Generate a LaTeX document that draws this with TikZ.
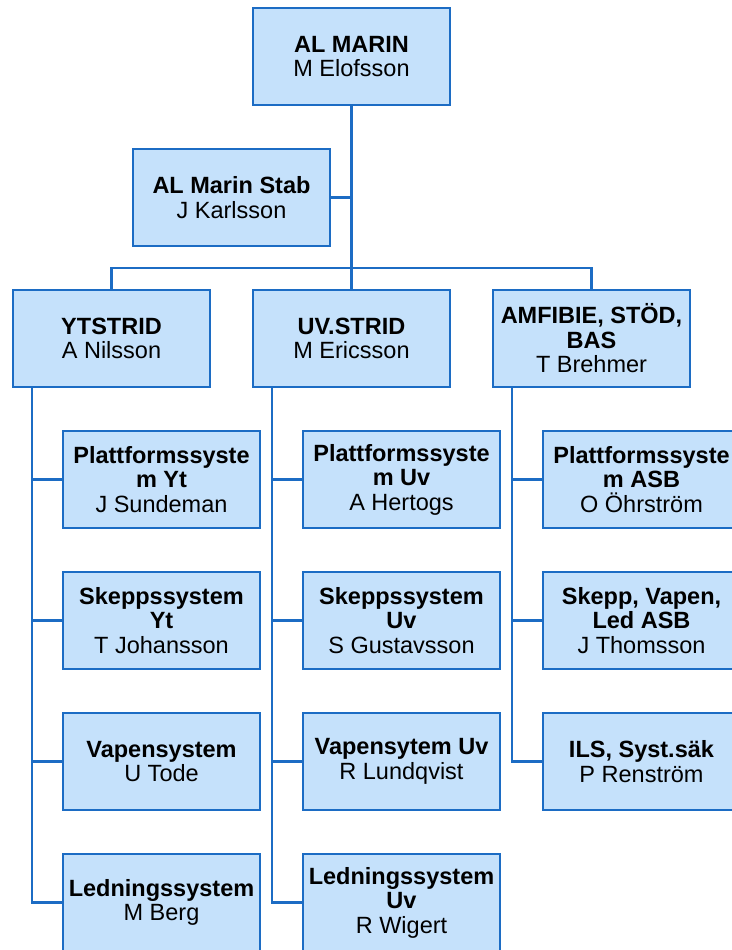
\documentclass[tikz,border=0pt]{standalone}
\usepackage{fontspec}
\setmainfont{Liberation Sans}
\definecolor{boxfill}{RGB}{197,225,251}
\definecolor{boxline}{RGB}{28,108,196}
\begin{document}
\begin{tikzpicture}[x=1pt,y=-1pt,
  orgbox/.style={draw=boxline, fill=boxfill, line width=2pt, minimum width=197pt, minimum height=97pt, inner sep=0pt, align=center, font=\fontsize{23.5}{24.5}\selectfont},
  conn/.style={draw=boxline, line width=2.2pt}]
\useasboundingbox (0,0) rectangle (731,950);
% top
\node[orgbox] (top) at (351.5,56.5) {\textbf{AL MARIN}\\M Elofsson};
\node[orgbox] (stab) at (231.5,197.5) {\textbf{AL Marin Stab}\\J Karlsson};
% level 2
\node[orgbox] (yt) at (111.5,338.5) {\textbf{YTSTRID}\\A Nilsson};
\node[orgbox] (uv) at (351.5,338.5) {\textbf{UV.STRID}\\M Ericsson};
\node[orgbox] (amf) at (591.5,338.5) {\textbf{AMFIBIE, STÖD,}\\\textbf{BAS}\\T Brehmer};
% left column
\node[orgbox] (ya) at (161.5,479.5) {\textbf{Plattformssyste}\\\textbf{m Yt}\\J Sundeman};
\node[orgbox] (yb) at (161.5,620.5) {\textbf{Skeppssystem}\\\textbf{Yt}\\T Johansson};
\node[orgbox] (yc) at (161.5,761.5) {\textbf{Vapensystem}\\U Tode};
\node[orgbox] (yd) at (161.5,902.5) {\textbf{Ledningssystem}\\M Berg};
% middle column
\node[orgbox] (ua) at (401.5,479.5) {\textbf{Plattformssyste}\\\textbf{m Uv}\\A Hertogs};
\node[orgbox] (ub) at (401.5,620.5) {\textbf{Skeppssystem}\\\textbf{Uv}\\S Gustavsson};
\node[orgbox] (uc) at (401.5,761.5) {\textbf{Vapensytem Uv}\\R Lundqvist};
\node[orgbox] (ud) at (401.5,902.5) {\textbf{Ledningssystem}\\\textbf{Uv}\\R Wigert};
% right column
\node[orgbox] (aa) at (641.5,479.5) {\textbf{Plattformssyste}\\\textbf{m ASB}\\O Öhrström};
\node[orgbox] (ab) at (641.5,620.5) {\textbf{Skepp, Vapen,}\\\textbf{Led ASB}\\J Thomsson};
\node[orgbox] (ac) at (641.5,761.5) {\textbf{ILS, Syst.säk}\\P Renström};
% connectors
\coordinate (bus) at (351.5,268);
\draw[conn] (top.south) -- (uv.north);
\draw[conn] (stab.east) -- (stab.east -| top.south);
\draw[conn] (yt.north) |- (bus) -| (amf.north);
\coordinate (yr) at ([xshift=20pt]yt.south west);
\coordinate (ur) at ([xshift=20pt]uv.south west);
\coordinate (ar) at ([xshift=20pt]amf.south west);
\draw[conn] (yr) |- (yd.west);
\foreach \c in {ya,yb,yc} \draw[conn] (yr |- \c.west) -- (\c.west);
\draw[conn] (ur) |- (ud.west);
\foreach \c in {ua,ub,uc} \draw[conn] (ur |- \c.west) -- (\c.west);
\draw[conn] (ar) |- (ac.west);
\foreach \c in {aa,ab} \draw[conn] (ar |- \c.west) -- (\c.west);
\end{tikzpicture}
\end{document}
